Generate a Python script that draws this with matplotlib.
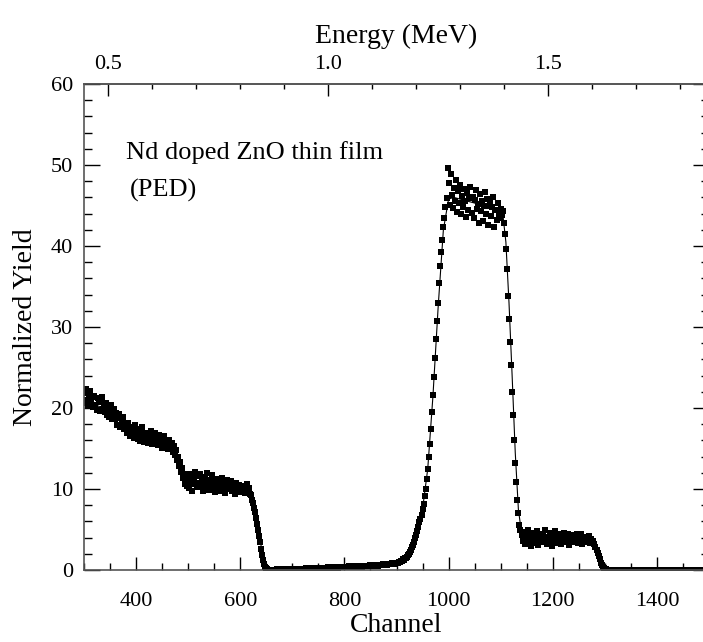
import numpy as np
import matplotlib
matplotlib.use("Agg")
import matplotlib.pyplot as plt
from matplotlib.ticker import MultipleLocator

# measured spectrum, one value every 2 channels starting at channel 300
channel = np.arange(300, 1500, 2)
yield_data = [
    21.8, 20.6, 22.4, 21.0, 20.3, 21.7, 22.1, 20.8, 21.3, 20.1,   # 300
    21.5, 20.4, 19.8, 21.2, 20.7, 19.6, 20.9, 21.4, 19.9, 20.3,   # 320
    19.5, 20.6, 19.1, 20.2, 18.9, 19.8, 20.4, 18.7, 19.3, 19.9,   # 340
    18.6, 19.4, 17.9, 18.8, 19.2, 17.6, 18.3, 18.9, 17.4, 18.1,   # 360
    17.8, 16.9, 18.2, 17.3, 16.6, 17.7, 16.8, 17.5, 16.3, 17.9,   # 380
    16.7, 17.4, 16.2, 17.1, 15.9, 16.8, 17.6, 16.4, 15.8, 16.9,   # 400
    16.3, 15.7, 16.8, 16.1, 17.2, 15.6, 16.4, 15.9, 16.9, 15.5,   # 420
    16.2, 15.4, 16.7, 15.8, 16.4, 15.1, 16.0, 16.6, 15.3, 15.9,   # 440
    15.6, 14.9, 16.1, 15.2, 15.7, 14.6, 15.3, 14.2, 14.8, 13.6,   # 460
    13.9, 12.8, 13.3, 12.1, 12.6, 11.4, 11.9, 10.6, 11.3, 10.4,   # 480
    11.2, 10.1, 11.8, 10.6, 9.8, 11.4, 10.9, 12.1, 10.3, 11.6,    # 500
    10.7, 11.9, 10.2, 11.3, 9.7, 10.8, 11.5, 10.4, 12.0, 10.9,    # 520
    9.9, 11.1, 10.5, 11.7, 10.0, 10.8, 9.6, 11.2, 10.4, 11.0,     # 540
    10.6, 9.8, 11.3, 10.2, 10.9, 9.5, 10.7, 11.1, 10.0, 10.5,     # 560
    10.3, 11.0, 9.7, 10.6, 10.1, 9.4, 10.8, 10.2, 9.9, 10.5,      # 580
    10.0, 9.6, 10.4, 9.8, 10.3, 9.5, 10.6, 9.9, 10.1, 9.4,        # 600
    9.2, 8.6, 8.3, 7.6, 7.1, 6.4, 5.7, 4.9, 4.2, 3.5,             # 620
    2.6, 1.9, 1.2, 0.8, 0.4, 0.2, 0.1, 0.05, 0.03, 0.02,          # 640
    0.03, 0.05, 0.02, 0.06, 0.04, 0.08, 0.03, 0.05, 0.07, 0.04,   # 660
    0.06, 0.09, 0.05, 0.08, 0.1, 0.06, 0.12, 0.08, 0.1, 0.07,     # 680
    0.1, 0.13, 0.08, 0.12, 0.15, 0.1, 0.14, 0.11, 0.16, 0.12,     # 700
    0.14, 0.18, 0.12, 0.2, 0.15, 0.22, 0.16, 0.19, 0.14, 0.21,    # 720
    0.18, 0.24, 0.17, 0.22, 0.26, 0.19, 0.25, 0.21, 0.28, 0.2,    # 740
    0.24, 0.3, 0.22, 0.27, 0.33, 0.25, 0.29, 0.35, 0.26, 0.31,    # 760
    0.28, 0.34, 0.3, 0.37, 0.29, 0.36, 0.32, 0.4, 0.31, 0.38,     # 780
    0.35, 0.41, 0.33, 0.39, 0.44, 0.36, 0.42, 0.38, 0.46, 0.4,    # 800
    0.43, 0.38, 0.47, 0.41, 0.5, 0.44, 0.48, 0.42, 0.52, 0.46,    # 820
    0.49, 0.55, 0.47, 0.53, 0.5, 0.58, 0.52, 0.56, 0.51, 0.6,     # 840
    0.57, 0.63, 0.55, 0.61, 0.66, 0.59, 0.64, 0.7, 0.62, 0.68,    # 860
    0.72, 0.66, 0.75, 0.7, 0.78, 0.74, 0.82, 0.77, 0.85, 0.8,     # 880
    0.9, 0.85, 1.0, 0.95, 1.1, 1.15, 1.3, 1.25, 1.45, 1.5,        # 900
    1.6, 1.8, 2.0, 2.2, 2.5, 2.8, 3.1, 3.5, 3.9, 4.3,             # 920
    4.8, 5.3, 5.9, 6.3, 6.8, 7.5, 8.2, 9.1, 10.0, 11.2,           # 940
    12.5, 14.0, 15.5, 17.4, 19.5, 21.6, 23.8, 26.2, 28.5, 30.8,   # 960
    33.0, 35.4, 37.5, 39.3, 40.8, 42.4, 43.5, 44.8, 45.9, 49.6,   # 980
    47.8, 45.1, 48.9, 46.3, 44.7, 47.2, 45.6, 48.1, 44.2, 46.8,   # 1000
    45.3, 47.5, 43.9, 46.2, 44.8, 47.0, 45.5, 43.6, 46.6, 44.4,   # 1020
    45.9, 47.3, 44.1, 46.0, 43.4, 45.7, 46.9, 44.6, 45.2, 42.9,   # 1040
    46.4, 44.3, 45.6, 43.1, 45.0, 46.7, 44.0, 45.8, 42.6, 44.9,   # 1060
    45.4, 43.7, 44.8, 46.1, 42.4, 44.5, 43.2, 45.3, 44.0, 43.5,   # 1080
    44.6, 43.8, 44.3, 42.8, 41.5, 39.6, 37.2, 33.8, 31.0, 28.2,   # 1100
    25.3, 22.0, 19.1, 16.0, 13.2, 10.9, 8.7, 7.0, 5.6, 4.9,       # 1120
    4.3, 3.6, 4.7, 3.2, 4.1, 3.8, 4.9, 3.4, 4.4, 3.0,             # 1140
    3.9, 4.6, 3.3, 4.2, 3.7, 4.8, 3.1, 4.0, 3.6, 4.5,             # 1160
    3.4, 4.3, 3.8, 4.9, 3.2, 4.1, 3.5, 4.6, 3.9, 3.0,             # 1180
    4.4, 3.7, 4.8, 3.3, 4.2, 3.6, 4.5, 3.9, 3.2, 4.3,             # 1200
    3.8, 4.6, 3.4, 4.1, 3.7, 4.4, 3.1, 4.0, 3.6, 4.3,             # 1220
    3.5, 4.2, 3.9, 4.5, 3.3, 4.0, 3.7, 4.4, 3.2, 3.9,             # 1240
    3.6, 4.1, 3.4, 3.9, 3.7, 4.2, 3.3, 3.8, 3.5, 3.6,             # 1260
    3.2, 2.9, 2.5, 2.1, 1.7, 1.3, 0.9, 0.6, 0.4, 0.25,            # 1280
    0.15, 0.1, 0.06, 0.04, 0.05, 0.03, 0.04, 0.02, 0.05, 0.03,    # 1300
    0.04, 0.02, 0.05, 0.03, 0.02, 0.04, 0.03, 0.05, 0.02, 0.04,   # 1320
    0.03, 0.05, 0.02, 0.04, 0.03, 0.02, 0.05, 0.03, 0.04, 0.02,   # 1340
    0.04, 0.03, 0.02, 0.05, 0.03, 0.04, 0.02, 0.03, 0.05, 0.03,   # 1360
    0.02, 0.04, 0.03, 0.05, 0.02, 0.03, 0.04, 0.02, 0.03, 0.04,   # 1380
    0.03, 0.02, 0.04, 0.03, 0.05, 0.02, 0.03, 0.04, 0.02, 0.05,   # 1400
    0.04, 0.03, 0.05, 0.02, 0.04, 0.03, 0.02, 0.05, 0.03, 0.04,   # 1420
    0.02, 0.04, 0.03, 0.02, 0.05, 0.03, 0.04, 0.02, 0.03, 0.05,   # 1440
    0.03, 0.05, 0.02, 0.04, 0.03, 0.02, 0.04, 0.03, 0.05, 0.02,   # 1460
    0.04, 0.02, 0.03, 0.05, 0.03, 0.04, 0.02, 0.03, 0.04, 0.03,   # 1480
]

# simulated spectrum (thin line)
sim_channel = [300, 340, 380, 420, 460, 470, 480, 490, 500, 540, 580, 610,
               620, 628, 636, 644, 652, 660, 700, 800, 880, 900, 920, 940,
               950, 960, 970, 980, 990, 1000, 1010, 1050, 1090, 1104, 1110,
               1116, 1122, 1128, 1134, 1140, 1150, 1200, 1270, 1280, 1288,
               1296, 1304, 1500]
sim_yield = [21.2, 19.8, 17.8, 16.3, 15.6, 15.2, 13.8, 12.0, 11.0, 10.7, 10.3, 10.0,
             9.4, 7.5, 4.5, 1.5, 0.3, 0.05, 0.1, 0.3, 0.6, 0.8, 1.6, 4.6,
             7.5, 12.5, 21.5, 32.5, 42.0, 45.8, 46.0, 45.3, 44.6, 44.0, 40.5,
             33.0, 24.0, 14.5, 7.5, 4.6, 4.0, 3.9, 3.7, 3.1, 1.8,
             0.6, 0.05, 0.0]

energy_ticks = [0.5, 1.0, 1.5]


def ch_to_mev(ch):
    return 0.5 + (np.asarray(ch, dtype=float) - 346.0) / 845.0


def mev_to_ch(e):
    return 346.0 + (np.asarray(e, dtype=float) - 0.5) * 845.0


plt.rcParams['font.family'] = ['Liberation Serif', 'DejaVu Serif']

fig = plt.figure(figsize=(7.03, 6.42), dpi=100)
ax = fig.add_axes([84 / 703, 72 / 642, 625 / 703, 486 / 642])

ax.plot(sim_channel, sim_yield, color='black', lw=0.8)
ax.plot(channel, yield_data, 's', color='black', ms=4.0, mew=0)

ax.set_xlim(300, 1500)
ax.set_ylim(0, 60)
ax.xaxis.set_major_locator(MultipleLocator(200))
ax.xaxis.set_minor_locator(MultipleLocator(50))
ax.yaxis.set_major_locator(MultipleLocator(10))
ax.yaxis.set_minor_locator(MultipleLocator(2))

ax.tick_params(axis='x', which='major', direction='in', length=9.4, width=1,
               labelsize=16, pad=16, top=False)
ax.tick_params(axis='x', which='minor', direction='in', length=5, width=1, top=False)
ax.tick_params(axis='y', which='major', direction='in', length=11.5, width=1,
               labelsize=16, pad=8, right=True)
ax.tick_params(axis='y', which='minor', direction='in', length=5.8, width=1, right=True)

for sp in ax.spines.values():
    sp.set_color('#555555')
    sp.set_linewidth(1.2)

ax.set_xlabel('Channel', fontsize=20, labelpad=1)
ax.set_ylabel('Normalized Yield', fontsize=20, labelpad=9)

secax = ax.secondary_xaxis('top', functions=(ch_to_mev, mev_to_ch))
secax.set_xticks(energy_ticks)
secax.xaxis.set_minor_locator(MultipleLocator(0.1))
secax.tick_params(which='major', direction='in', length=8.6, width=1, labelsize=16, pad=7)
secax.tick_params(which='minor', direction='in', length=3.6, width=1)
secax.spines['top'].set_color('#555555')
secax.spines['top'].set_linewidth(1.2)
secax.set_xlabel('Energy (MeV)', fontsize=20, labelpad=9)

ax.text(381, 51.5, 'Nd doped ZnO thin film', fontsize=19, va='center')
ax.text(388, 46.9, '(PED)', fontsize=19, va='center')

fig.savefig('out.png', dpi=100)
